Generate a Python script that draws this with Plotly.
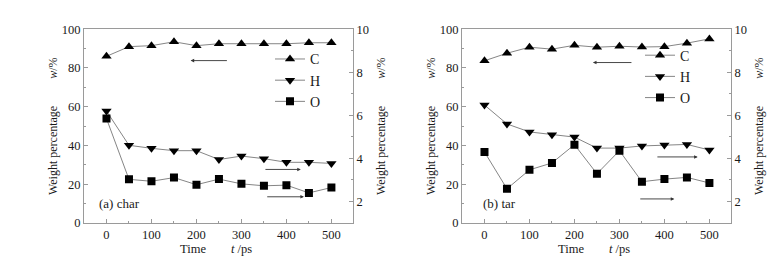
import plotly.graph_objects as go

t = [0, 50, 100, 150, 200, 250, 300, 350, 400, 450, 500]

char_C = [86.0, 91.0, 91.5, 93.5, 91.5, 92.5, 92.5, 92.5, 92.5, 93.0, 93.0]
char_H = [6.20, 4.61, 4.47, 4.36, 4.36, 3.95, 4.11, 3.99, 3.82, 3.82, 3.77]
char_O = [5.85, 3.03, 2.94, 3.11, 2.78, 3.04, 2.82, 2.73, 2.76, 2.40, 2.65]

tar_C = [83.7, 87.6, 90.7, 89.7, 91.7, 90.7, 91.2, 90.8, 91.0, 92.8, 95.0]
tar_H = [6.48, 5.60, 5.23, 5.10, 4.99, 4.48, 4.48, 4.58, 4.62, 4.65, 4.39]
tar_O = [4.30, 2.59, 3.47, 3.79, 4.64, 3.29, 4.36, 2.92, 3.04, 3.12, 2.86]

series_names = ["C", "H", "O"]
symbols = ["triangle-up", "triangle-down", "square"]
panel_labels = ["(a) char", "(b) tar"]

FONT = "Liberation Serif"
LINE_COL = "#666666"
AX_COL = "#9a9a9a"
TXT = "#1a1a1a"

fig = go.Figure()

panels = [
    dict(x="x", yl="y", yr="y2", legend="legend", data=[char_C, char_H, char_O]),
    dict(x="x2", yl="y3", yr="y4", legend="legend2", data=[tar_C, tar_H, tar_O]),
]

for p in panels:
    for i, (name, sym, vals) in enumerate(zip(series_names, symbols, p["data"])):
        fig.add_trace(go.Scatter(
            x=t, y=vals, name=name, mode="lines+markers",
            xaxis=p["x"], yaxis=(p["yl"] if i == 0 else p["yr"]),
            legend=p["legend"],
            line=dict(color=LINE_COL, width=0.8),
            marker=dict(symbol=sym, size=9 if i < 2 else 8, color="black"),
        ))

xd1 = [76 / 779, 345 / 779]
xd2 = [454 / 779, 723 / 779]
yd = [38 / 258, 243 / 258]

xcommon = dict(range=[-50, 548], tickvals=[0, 100, 200, 300, 400, 500],
               ticks="inside", ticklen=4, tickcolor=AX_COL, showgrid=False,
               zeroline=False, showline=True, linecolor=AX_COL, linewidth=1,
               mirror=True, tickfont=dict(family=FONT, size=12.5, color=TXT),
               minor=dict(dtick=50, tick0=0, ticks="inside", ticklen=2, tickcolor=AX_COL))
ylcommon = dict(range=[0, 100], tickvals=[0, 20, 40, 60, 80, 100],
                ticks="inside", ticklen=4, tickcolor=AX_COL, showgrid=False,
                zeroline=False, showline=True, linecolor=AX_COL, linewidth=1,
                tickfont=dict(family=FONT, size=12.5, color=TXT),
                minor=dict(dtick=10, tick0=0, ticks="inside", ticklen=2, tickcolor=AX_COL))
yrcommon = dict(range=[1, 10], tickvals=[2, 4, 6, 8, 10], side="right",
                ticks="inside", ticklen=4, tickcolor=AX_COL, showgrid=False,
                zeroline=False, showline=True, linecolor=AX_COL, linewidth=1,
                tickfont=dict(family=FONT, size=12.5, color=TXT),
                minor=dict(dtick=1, tick0=0, ticks="inside", ticklen=2, tickcolor=AX_COL))

legcommon = dict(font=dict(family=FONT, size=14, color=TXT), bgcolor="rgba(0,0,0,0)",
                 itemwidth=30, tracegroupgap=0, xanchor="left", yanchor="top")

fig.update_layout(
    width=779, height=258,
    margin=dict(l=0, r=0, t=0, b=0),
    paper_bgcolor="white", plot_bgcolor="white",
    showlegend=True,
    xaxis=dict(domain=xd1, anchor="y", **xcommon),
    xaxis2=dict(domain=xd2, anchor="y3", **xcommon),
    yaxis=dict(domain=yd, anchor="x", **ylcommon),
    yaxis2=dict(overlaying="y", anchor="x", **yrcommon),
    yaxis3=dict(domain=yd, anchor="x2", **ylcommon),
    yaxis4=dict(overlaying="y3", anchor="x2", **yrcommon),
    legend=dict(x=262 / 779, y=1 - 30 / 258, **legcommon),
    legend2=dict(x=632 / 779, y=1 - 26 / 258, **legcommon),
)

ann = []
# axis titles
for xc in [(76 + 345) / 2 - 3, (454 + 723) / 2 - 3]:
    ann.append(dict(xref="paper", yref="paper", x=xc / 779, y=1 - 247 / 258,
                    text="Time\u00a0\u00a0\u00a0\u00a0\u00a0\u00a0\u00a0\u00a0<i>t</i> /ps",
                    showarrow=False, font=dict(family=FONT, size=12.5, color=TXT),
                    xanchor="center", yanchor="middle"))
ytitle = "Weight percentage\u00a0\u00a0\u00a0\u00a0\u00a0\u00a0\u00a0\u00a0\u00a0<i>w</i>/%"
for xc in [45, 373, 423, 751]:
    ann.append(dict(xref="paper", yref="paper", x=xc / 779, y=1 - 117.5 / 258,
                    text=ytitle, textangle=-90, showarrow=False,
                    font=dict(family=FONT, size=12, color=TXT),
                    xanchor="center", yanchor="middle"))
# panel labels
ann.append(dict(xref="x", yref="y", x=-22, y=10, text=panel_labels[0], showarrow=False,
                xanchor="left", yanchor="middle", font=dict(family=FONT, size=13, color=TXT)))
ann.append(dict(xref="x2", yref="y3", x=-8, y=10, text=panel_labels[1], showarrow=False,
                xanchor="left", yanchor="middle", font=dict(family=FONT, size=13, color=TXT)))

# arrows: (xref, yref, head_x, tail_x, y)
arrows = [
    ("x", "y", 187, 271, 83.8),
    ("x", "y2", 432, 350, 3.49),
    ("x", "y2", 439, 354, 2.22),
    ("x2", "y3", 241, 330, 82.8),
    ("x2", "y4", 474, 381, 4.07),
    ("x2", "y4", 422, 343, 2.12),
]
for xr, yr, hx, tx, yv in arrows:
    ann.append(dict(xref=xr, yref=yr, axref=xr, ayref=yr, x=hx, y=yv, ax=tx, ay=yv,
                    text="", showarrow=True, arrowhead=2, arrowsize=0.8,
                    arrowwidth=0.9, arrowcolor="#333333"))

fig.update_layout(annotations=ann)

fig.write_html("out.html")
